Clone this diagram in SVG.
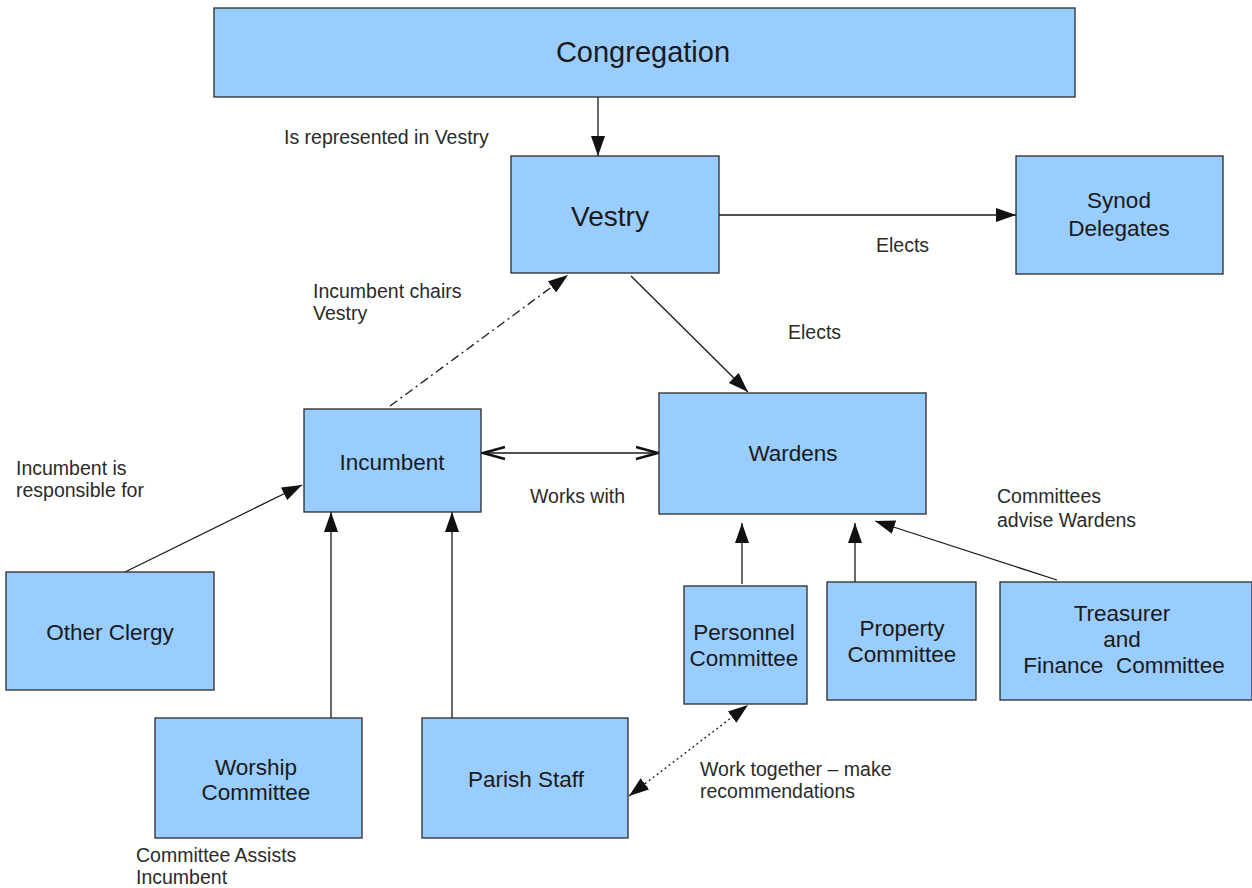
<svg xmlns="http://www.w3.org/2000/svg" width="1252" height="888" viewBox="0 0 1252 888">
<style>
.box{fill:#99ccff;stroke:#2a2a2a;stroke-width:1.3}
.t{font-family:"Liberation Sans",Arial,sans-serif;fill:#1a1a1a;text-anchor:middle}
.n{font-size:22.5px}
.l{font-family:"Liberation Sans",Arial,sans-serif;fill:#2a2a2a;font-size:19.5px}
.c{stroke:#1a1a1a;stroke-width:1.3;fill:none}
</style>
<defs>
<marker id="ah" viewBox="0 0 20 14" refX="20" refY="7" markerWidth="20" markerHeight="14" markerUnits="userSpaceOnUse" orient="auto-start-reverse">
<path d="M0,0 L20,7 L0,14 Z" fill="#111"/>
</marker>
<marker id="av" viewBox="0 0 26 16" refX="25" refY="8" markerWidth="26" markerHeight="16" markerUnits="userSpaceOnUse" orient="auto-start-reverse">
<path d="M2,2 L24,8 L2,14" fill="none" stroke="#111" stroke-width="2.6"/>
</marker>
</defs>
<rect width="1252" height="888" fill="#fff"/>
<g id="connectors">
<line class="c" x1="598" y1="97" x2="598" y2="156" marker-end="url(#ah)"/>
<line class="c" x1="719" y1="215" x2="1016" y2="215" marker-end="url(#ah)"/>
<line class="c" x1="631" y1="276" x2="748" y2="392" marker-end="url(#ah)"/>
<line class="c" x1="390" y1="406" x2="568" y2="275" stroke-dasharray="9,4,2,4" marker-end="url(#ah)"/>
<line class="c" x1="482" y1="453" x2="659" y2="453" marker-start="url(#av)" marker-end="url(#av)"/>
<line class="c" x1="125" y1="572" x2="302" y2="485" marker-end="url(#ah)"/>
<line class="c" x1="331" y1="718" x2="331" y2="512" marker-end="url(#ah)"/>
<line class="c" x1="452" y1="718" x2="452" y2="512" marker-end="url(#ah)"/>
<line class="c" x1="742" y1="584" x2="742" y2="523" marker-end="url(#ah)"/>
<line class="c" x1="855" y1="582" x2="855" y2="523" marker-end="url(#ah)"/>
<line class="c" x1="1057" y1="580" x2="875" y2="521" marker-end="url(#ah)"/>
<line class="c" x1="629" y1="796" x2="748" y2="705" stroke-dasharray="2,3" marker-start="url(#ah)" marker-end="url(#ah)"/>
</g>
<g id="congregation"><rect class="box" x="214" y="8" width="861" height="89"/><text class="t" x="643" y="62" font-size="29">Congregation</text></g>
<g id="vestry"><rect class="box" x="511" y="156" width="208" height="117"/><text class="t" x="610" y="226" font-size="28">Vestry</text></g>
<g id="synod"><rect class="box" x="1016" y="156" width="207" height="118"/><text class="t n" x="1119" y="208">Synod</text><text class="t n" x="1119" y="236">Delegates</text></g>
<g id="incumbent"><rect class="box" x="304" y="409" width="177" height="103"/><text class="t n" x="392" y="470">Incumbent</text></g>
<g id="wardens"><rect class="box" x="659" y="393" width="267" height="121"/><text class="t n" x="793" y="461">Wardens</text></g>
<g id="other-clergy"><rect class="box" x="6" y="572" width="208" height="118"/><text class="t n" x="110" y="640">Other Clergy</text></g>
<g id="worship"><rect class="box" x="155" y="718" width="207" height="120"/><text class="t n" x="256" y="775">Worship</text><text class="t n" x="256" y="800">Committee</text></g>
<g id="parish-staff"><rect class="box" x="422" y="718" width="206" height="120"/><text class="t n" x="526" y="787">Parish Staff</text></g>
<g id="personnel"><rect class="box" x="684" y="586" width="123" height="118"/><text class="t n" x="744" y="640">Personnel</text><text class="t n" x="744" y="666">Committee</text></g>
<g id="property"><rect class="box" x="827" y="582" width="149" height="118"/><text class="t n" x="902" y="636">Property</text><text class="t n" x="902" y="662">Committee</text></g>
<g id="treasurer"><rect class="box" x="1000" y="582" width="252" height="118"/><text class="t n" x="1122" y="621">Treasurer</text><text class="t n" x="1122" y="647">and</text><text class="t n" x="1124" y="673" xml:space="preserve">Finance  Committee</text></g>
<g id="labels">
<text class="l" x="284" y="144">Is represented in Vestry</text>
<text class="l" x="313" y="298">Incumbent chairs</text>
<text class="l" x="313" y="320">Vestry</text>
<text class="l" x="876" y="252">Elects</text>
<text class="l" x="788" y="339">Elects</text>
<text class="l" x="530" y="503">Works with</text>
<text class="l" x="16" y="475">Incumbent is</text>
<text class="l" x="16" y="497">responsible for</text>
<text class="l" x="997" y="503">Committees</text>
<text class="l" x="997" y="527">advise Wardens</text>
<text class="l" x="700" y="776">Work together – make</text>
<text class="l" x="700" y="798">recommendations</text>
<text class="l" x="136" y="862">Committee Assists</text>
<text class="l" x="136" y="884">Incumbent</text>
</g>
</svg>
